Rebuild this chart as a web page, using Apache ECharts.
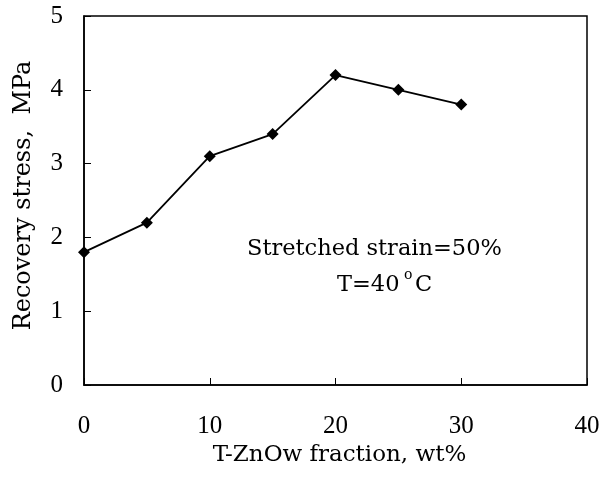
<!DOCTYPE html>
<html>
<head>
<meta charset="utf-8">
<script src="https://cdn.jsdelivr.net/npm/echarts@6/dist/echarts.min.js"></script>
<style>
  html, body { margin: 0; padding: 0; background: #fff; }
  #chart { width: 610px; height: 481px; }
</style>
</head>
<body>
<div id="chart"></div>
<script>
// T-ZnOw fraction (wt%) vs recovery stress (MPa)
const fraction = [0, 5, 10, 15, 20, 25, 30];
const stress = [1.8, 2.2, 3.1, 3.4, 4.2, 4.0, 3.8];
const xTicks = [0, 10, 20, 30, 40];
const yTicks = [0, 1, 2, 3, 4, 5];

const serifText = "DejaVu Serif";
const serifNum = "Liberation Serif";

const chart = echarts.init(document.getElementById("chart"));
chart.setOption({
  animation: false,
  backgroundColor: "#fff",
  grid: {
    left: 84, right: 23, top: 16, bottom: 96,
    show: true, borderColor: "#000", borderWidth: 1.5
  },
  xAxis: {
    type: "value",
    min: xTicks[0], max: xTicks[xTicks.length - 1], interval: 10,
    name: "T-ZnOw fraction, wt%",
    nameLocation: "middle",
    nameGap: 58,
    nameTextStyle: { fontFamily: serifText, fontSize: 23, color: "#000", padding: [0, 0, 0, 8] },
    axisLine: { lineStyle: { color: "#000", width: 1.5 } },
    axisTick: { inside: true, length: 7, lineStyle: { color: "#000" } },
    axisLabel: { fontFamily: serifNum, fontSize: 25, color: "#000", margin: 29 },
    splitLine: { show: false }
  },
  yAxis: {
    type: "value",
    min: yTicks[0], max: yTicks[yTicks.length - 1], interval: 1,
    name: "Recovery stress,  MPa",
    nameLocation: "middle",
    nameGap: 48,
    nameTextStyle: { fontFamily: serifText, fontSize: 24, color: "#000", padding: [0, 0, 0, 10] },
    axisLine: { lineStyle: { color: "#000", width: 1.5 } },
    axisTick: { inside: true, length: 7, lineStyle: { color: "#000" } },
    axisLabel: { fontFamily: serifNum, fontSize: 25, color: "#000", margin: 21, padding: [6, 0, 0, 0] },
    splitLine: { show: false }
  },
  series: [{
    type: "line",
    data: fraction.map((x, i) => [x, stress[i]]),
    symbol: "diamond",
    symbolSize: 12,
    itemStyle: { color: "#000" },
    lineStyle: { color: "#000", width: 1.8 }
  }],
  graphic: [
    {
      type: "text", left: 247, top: 238,
      style: { text: "Stretched strain=50%", font: "22.5px " + serifText, fill: "#000" }
    },
    {
      type: "text", left: 337, top: 274,
      style: { text: "T=40", font: "22.5px " + serifText, fill: "#000" }
    },
    {
      type: "text", left: 404, top: 268,
      style: { text: "o", font: "14px " + serifText, fill: "#000" }
    },
    {
      type: "text", left: 415, top: 274,
      style: { text: "C", font: "22.5px " + serifText, fill: "#000" }
    }
  ]
});
</script>
</body>
</html>
